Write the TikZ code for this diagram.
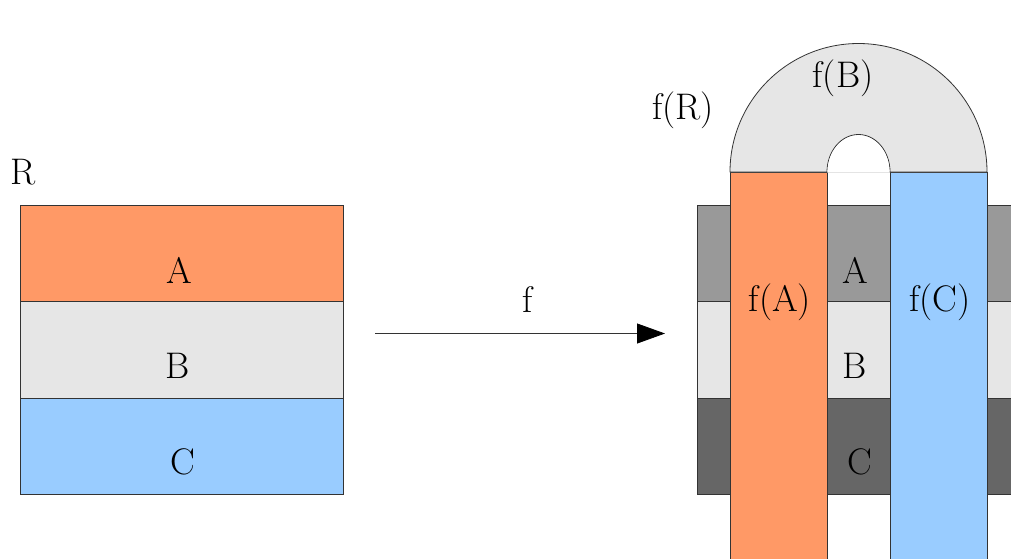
\documentclass[tikz,border=0pt]{standalone}
\usetikzlibrary{arrows.meta}
\definecolor{corange}{HTML}{FF9966}
\definecolor{clight}{HTML}{E6E6E6}
\definecolor{cblue}{HTML}{99CCFF}
\definecolor{cgray}{HTML}{999999}
\definecolor{cdark}{HTML}{666666}
\definecolor{cline}{HTML}{333333}
\begin{document}
\begin{tikzpicture}[x=1pt,y=-1pt,
  band/.style={draw=cline,line width=0.8pt,inner sep=0pt,outer sep=0pt,minimum width=#1},
  lbl/.style={font=\fontsize{37}{44}\selectfont,inner sep=0pt},
  ]
\useasboundingbox (0,0) rectangle (1011,558);
% left rectangle
\node[band=323pt,minimum height=96pt,fill=corange,anchor=north west] (lA) at (20,205) {};
\node[band=323pt,minimum height=97pt,fill=clight,anchor=north west] (lB) at (20,301) {};
\node[band=323pt,minimum height=96pt,fill=cblue,anchor=north west] (lC) at (20,398) {};
\node[lbl] (tR) at (23,172) {R};
\node[lbl] (tA) at (179,270) {A};
\node[lbl] (tB) at (178,366) {B};
\node[lbl] (tC) at (183,462) {C};
% arrow
\coordinate (as) at (375,333.5);
\coordinate (ae) at (665,333.5);
\draw[cline,line width=0.8pt,-{Triangle[length=28pt,width=20pt,color=black]}] (as) -- (ae);
\node[lbl] (tf) at (528,300) {f};
% right background
\node[band=330pt,minimum height=96pt,fill=cgray,anchor=north west] (rA) at (697,205) {};
\node[band=330pt,minimum height=97pt,fill=clight,anchor=north west] (rB) at (697,301) {};
\node[band=330pt,minimum height=96pt,fill=cdark,anchor=north west] (rC) at (697,398) {};
\node[lbl] (tA2) at (855,270) {A};
\node[lbl] (tB2) at (855,366) {B};
\node[lbl] (tC2) at (860,462) {C};
% strips
\node[band=97pt,minimum height=400pt,fill=corange,anchor=north west] (sA) at (730,172) {};
\node[band=97pt,minimum height=400pt,fill=cblue,anchor=north west] (sC) at (890,172) {};
% arch
\draw[cline,line width=0.8pt,fill=clight,even odd rule]
  (730,172) arc[start angle=180,end angle=360,radius=128.5] -- cycle
  (827,172) arc[start angle=180,end angle=360,x radius=31.5,y radius=37.5] -- cycle;
\fill[white] (827.4,172.6) arc[start angle=180,end angle=360,x radius=31.1,y radius=37.1] -- cycle;
\node[lbl] (tfB) at (843,78) {f(B)};
\node[lbl] (tfR) at (683,110) {f(R)};
\node[lbl] (tfA) at (780,302) {f(A)};
\node[lbl] (tfC) at (940,302) {f(C)};
\end{tikzpicture}
\end{document}
